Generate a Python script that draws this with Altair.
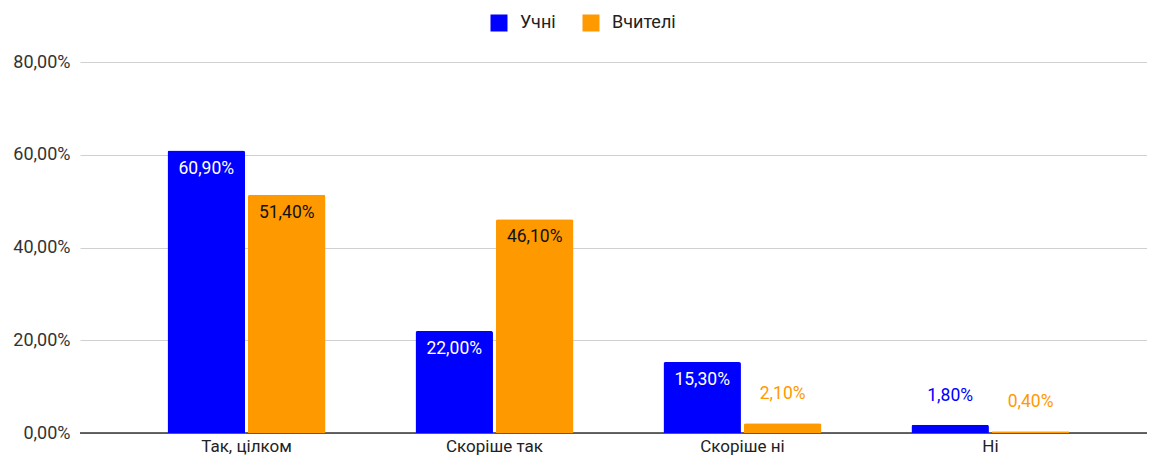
import altair as alt
import pandas as pd

categories = ["Так, цілком", "Скоріше так", "Скоріше ні", "Ні"]
series_names = ["Учні", "Вчителі"]
students = [60.9, 22.0, 15.3, 1.8]
teachers = [51.4, 46.1, 2.1, 0.4]
y_ticks = [0, 20, 40, 60, 80]
colors = ["#0000FF", "#FF9900"]

rows = []
for c, s, t in zip(categories, students, teachers):
    rows.append({"category": c, "series": series_names[0], "value": s})
    rows.append({"category": c, "series": series_names[1], "value": t})
df = pd.DataFrame(rows)

FONT = "Roboto"
fmt = "replace(format(datum.value, '.2f'), '.', ',') + '%'"

x = alt.X("category:N", sort=categories, title=None,
          scale=alt.Scale(paddingInner=0.363, paddingOuter=0.333, align=0.53),
          axis=alt.Axis(labelAngle=0, labelFontSize=17, labelColor="#222222",
                        labelFont=FONT, ticks=False, domain=False, grid=False,
                        labelPadding=5))
xo = alt.XOffset("series:N", sort=series_names, scale=alt.Scale(paddingInner=0.037))
y = alt.Y("value:Q", title=None,
          scale=alt.Scale(domain=[0, 80], nice=False),
          axis=alt.Axis(values=y_ticks, labelExpr=fmt, labelFontSize=18,
                        labelColor="#333333", labelFont=FONT, ticks=False,
                        domain=False, labelPadding=10, gridColor="#d0d0d0"))
color = alt.Color("series:N", sort=series_names,
                  scale=alt.Scale(domain=series_names, range=colors),
                  legend=alt.Legend(title=None, orient="none", direction="horizontal",
                                    legendX=410, legendY=-48, symbolType="square",
                                    symbolSize=289, symbolStrokeWidth=0,
                                    labelFontSize=18, labelFont=FONT,
                                    labelColor="#222222", labelOffset=12,
                                    columnPadding=26))

base = alt.Chart(df).encode(x=x, xOffset=xo, y=y)

zero = alt.Chart(pd.DataFrame({"v": [0]})).mark_rule(color="#333333", strokeWidth=1.5).encode(
    y=alt.Y("v:Q", scale=alt.Scale(domain=[0, 80], nice=False))
)

bars = base.mark_bar(cornerRadiusTopLeft=2, cornerRadiusTopRight=2).encode(color=color)

inside = base.transform_filter("datum.value >= 10").transform_calculate(
    label=fmt
).mark_text(baseline="middle", dy=18, fontSize=17.5, font=FONT).encode(
    text="label:N",
    color=alt.Color("series:N", sort=series_names,
                    scale=alt.Scale(domain=series_names, range=["#FFFFFF", "#111111"]),
                    legend=None),
)

outside = base.transform_filter("datum.value < 10").transform_calculate(
    label=fmt
).mark_text(baseline="middle", dy=-29, fontSize=17.5, font=FONT).encode(
    text="label:N",
    color=alt.Color("series:N", sort=series_names,
                    scale=alt.Scale(domain=series_names, range=colors),
                    legend=None),
)

chart = alt.layer(zero, bars, inside, outside).resolve_scale(color="independent").properties(
    width=1067, height=371,
    autosize=alt.AutoSizeParams(type="none"),
    padding={"left": 72, "top": 54, "right": 0, "bottom": 22},
).configure(font=FONT).configure_view(stroke=None)

chart.save("out.html", embed_options={"renderer": "svg", "actions": False})
